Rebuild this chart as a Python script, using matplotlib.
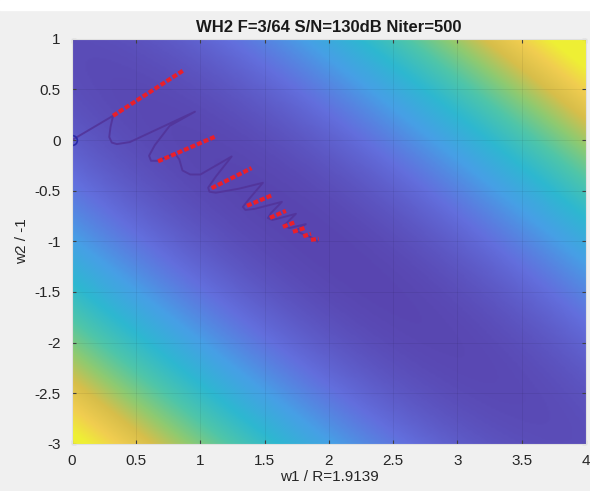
import numpy as np
import matplotlib.pyplot as plt
from matplotlib.colors import LinearSegmentedColormap, to_rgb
from matplotlib.patches import Rectangle

# error surface parameters (optimum from the axis labels: w1=R, w2=-1)
W1_OPT = 1.9139
W2_OPT = -1.0
RHO = np.cos(2 * np.pi * 3 / 64)

# weight trajectory (purple line)
path_w1 = [0.0, 0.32, 0.30, 0.29, 0.31, 0.35, 0.45, 0.957,
           0.76, 0.645, 0.60, 0.615, 0.67, 0.80, 0.835, 0.86, 0.92, 1.00, 1.243,
           1.12, 1.06, 1.07, 1.12, 1.30, 1.486,
           1.38, 1.33, 1.35, 1.42, 1.634,
           1.55, 1.525, 1.56, 1.743,
           1.67, 1.65, 1.69, 1.82,
           1.76, 1.75, 1.80, 1.86, 1.91]
path_w2 = [0.0, 0.24, 0.13, 0.03, -0.025, -0.04, -0.02, 0.28,
           0.14, -0.05, -0.155, -0.205, -0.205, -0.13, -0.19, -0.30, -0.34, -0.34, -0.162,
           -0.36, -0.47, -0.51, -0.52, -0.48, -0.422,
           -0.58, -0.66, -0.69, -0.68, -0.61,
           -0.72, -0.77, -0.79, -0.728,
           -0.82, -0.84, -0.87, -0.83,
           -0.88, -0.90, -0.93, -0.96, -1.0]

# red marker runs (start/end of each)
red_x0 = [0.32, 0.67, 1.087, 1.362, 1.541, 1.642, 1.72, 1.80, 1.86]
red_y0 = [0.24, -0.21, -0.475, -0.649, -0.768, -0.857, -0.906, -0.95, -0.985]
red_x1 = [0.87, 1.126, 1.398, 1.564, 1.665, 1.743, 1.813, 1.86, 1.92]
red_y1 = [0.69, 0.04, -0.277, -0.541, -0.699, -0.807, -0.867, -0.925, -0.975]

# parula, slightly washed out like the reference
parula_rgb = [(0.2422, 0.1504, 0.6603), (0.2900, 0.3500, 0.8800),
              (0.1540, 0.5902, 0.9218), (0.0297, 0.7082, 0.8163),
              (0.1938, 0.7758, 0.6251), (0.5044, 0.7993, 0.3480),
              (0.8634, 0.7406, 0.1596), (0.9892, 0.8136, 0.1885),
              (0.9763, 0.9831, 0.0538)]
haze = np.array(to_rgb('#c4c4d0'))
parula = LinearSegmentedColormap.from_list(
    'parula', [0.8 * np.array(c) + 0.2 * haze for c in parula_rgb])

g1 = np.linspace(0, 4, 300)
g2 = np.linspace(-3, 1, 300)
G1, G2 = np.meshgrid(g1, g2)
d1 = G1 - W1_OPT
d2 = G2 - W2_OPT
E = d1**2 + d2**2 + 2 * RHO * d1 * d2

plt.rcParams['font.family'] = ['Liberation Sans', 'DejaVu Sans']
fig = plt.figure(figsize=(5.9, 4.91), dpi=100, facecolor='#f0f0f0')
fig.patches.append(Rectangle((0, 0.98), 1, 0.02, transform=fig.transFigure,
                             color='white', zorder=-1))
ax = fig.add_axes([0.122, 0.096, 0.871, 0.825])
ax.imshow(E, extent=[0, 4, -3, 1], origin='lower', aspect='auto',
          cmap=parula, vmin=E.min(), vmax=E.min() + 0.87 * (E.max() - E.min()),
          interpolation='bilinear')

ax.plot(path_w1, path_w2, color='#52349a', lw=1.4, alpha=0.9)
for x0, y0, x1, y1 in zip(red_x0, red_y0, red_x1, red_y1):
    ax.plot([x0, x1], [y0, y1], color='#ea1f2a', lw=3,
            linestyle=(0, (1.2, 0.5)), solid_capstyle='butt')
ax.plot(path_w1[0], path_w2[0], 'o', mfc='none', mec='#2a2aa8', ms=7, mew=1.2)

ax.set_xlim(0, 4)
ax.set_ylim(-3, 1)
ax.set_xticks(np.arange(0, 4.01, 0.5))
ax.set_yticks(np.arange(-3, 1.01, 0.5))
ax.set_xticklabels(['0', '0.5', '1', '1.5', '2', '2.5', '3', '3.5', '4'])
ax.set_yticklabels(['-3', '-2.5', '-2', '-1.5', '-1', '-0.5', '0', '0.5', '1'])
ax.tick_params(direction='in', length=3, colors='#404040', labelsize=11,
               labelcolor='#262626', top=True, right=True)
ax.tick_params(axis='x', pad=7)
ax.tick_params(axis='y', pad=8)
ax.grid(True, color='k', alpha=0.07, lw=0.6)
for s in ax.spines.values():
    s.set_color('#e0e0e0')

ax.set_title('WH2 F=3/64 S/N=130dB Niter=500', fontsize=12,
             fontweight='bold', color='#1a1a1a', pad=5)
ax.set_xlabel('w1 / R=1.9139', fontsize=11, color='#262626', labelpad=2)
ax.set_ylabel('w2 / -1', fontsize=11, color='#262626', labelpad=4)

fig.savefig('out.png', dpi=100, facecolor=fig.get_facecolor())
